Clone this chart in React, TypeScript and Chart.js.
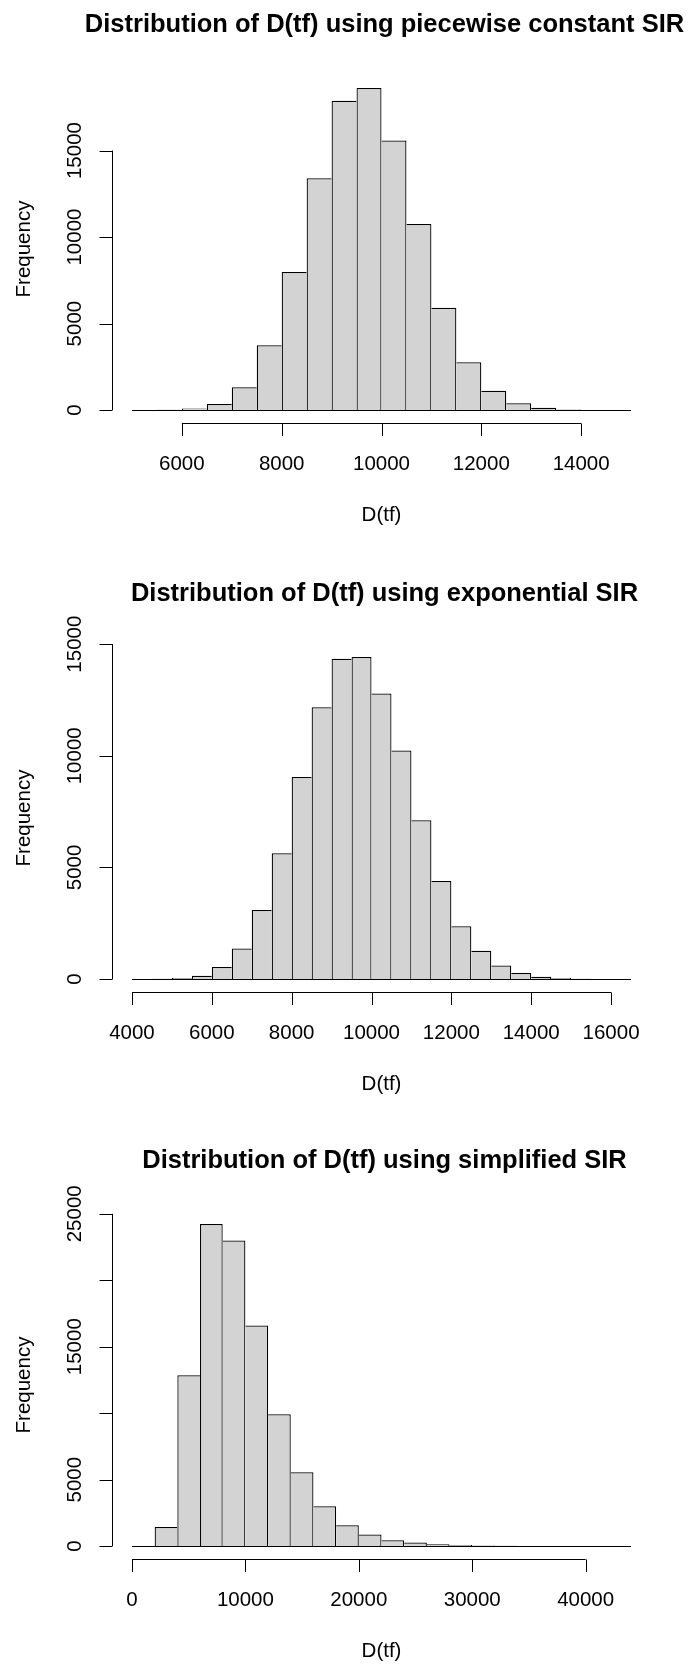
import { useEffect, useRef } from "react";
import { Chart, registerables } from "chart.js";

Chart.register(...registerables);

const FONT = '"Liberation Sans", Arial, Helvetica, sans-serif';

// --- Piecewise constant SIR ---
const title1 = "Distribution of D(tf) using piecewise constant SIR";
const binStart1 = 5000;
const binWidth1 = 500;
const counts1 = [5, 15, 90, 350, 1320, 3750, 7980, 13400, 17880, 18620, 15580, 10760, 5920, 2760, 1120, 390, 140, 40, 10, 3];
const xTicks1 = [6000, 8000, 10000, 12000, 14000];
const yTicks1 = [0, 5000, 10000, 15000];
const yTickLabels1 = ["0", "5000", "10000", "15000"];

// --- Exponential SIR ---
const title2 = "Distribution of D(tf) using exponential SIR";
const binStart2 = 4000;
const binWidth2 = 500;
const counts2 = [3, 15, 55, 150, 540, 1375, 3090, 5640, 9050, 12170, 14350, 14430, 12790, 10240, 7110, 4390, 2365, 1270, 610, 275, 108, 45, 15, 5, 2];
const xTicks2 = [4000, 6000, 8000, 10000, 12000, 14000, 16000];
const yTicks2 = [0, 5000, 10000, 15000];
const yTickLabels2 = ["0", "5000", "10000", "15000"];

// --- Simplified SIR ---
const title3 = "Distribution of D(tf) using simplified SIR";
const binStart3 = 0;
const binWidth3 = 2000;
const counts3 = [0, 1430, 12850, 24240, 22990, 16590, 9920, 5560, 3000, 1560, 870, 450, 270, 140, 80, 45, 20, 10, 5, 3, 2, 1];
const xTicks3 = [0, 10000, 20000, 30000, 40000];
const yTicks3 = [0, 5000, 10000, 15000, 20000, 25000];
const yTickLabels3 = ["0", "5000", "", "15000", "", "25000"];

const xLabel = "D(tf)";
const yLabel = "Frequency";

// layout of each plotting region inside its canvas
const W = 688;
const PLOT_LEFT = 112;
const PLOT_RIGHT = 651;
const PLOT_TOP = 75;
const PLOT_H = 348;
const EDGE = 1.25;

type Panel = {
  title: string;
  binStart: number;
  binWidth: number;
  counts: number[];
  xTicks: number[];
  yTicks: number[];
  yTickLabels: string[];
  canvasTop: number;
  canvasHeight: number;
};

const panels: Panel[] = [
  { title: title1, binStart: binStart1, binWidth: binWidth1, counts: counts1, xTicks: xTicks1, yTicks: yTicks1, yTickLabels: yTickLabels1, canvasTop: 0, canvasHeight: 569 },
  { title: title2, binStart: binStart2, binWidth: binWidth2, counts: counts2, xTicks: xTicks2, yTicks: yTicks2, yTickLabels: yTickLabels2, canvasTop: 569, canvasHeight: 568 },
  { title: title3, binStart: binStart3, binWidth: binWidth3, counts: counts3, xTicks: xTicks3, yTicks: yTicks3, yTickLabels: yTickLabels3, canvasTop: 1136, canvasHeight: 528 },
];

// R-style detached axes, labels and title
function rAxesPlugin(p: Panel) {
  const lastBreak = p.binStart + p.counts.length * p.binWidth;
  return {
    id: "rAxes",
    afterDatasetsDraw(chart: any) {
      const { ctx, scales } = chart;
      const x = scales.x;
      const y = scales.y;
      const y0 = Math.round(y.getPixelForValue(0)) + 0.5;
      ctx.save();
      ctx.strokeStyle = "#000";
      ctx.lineWidth = 1;
      ctx.beginPath();
      ctx.moveTo(x.getPixelForValue(p.binStart), y0);
      ctx.lineTo(x.getPixelForValue(lastBreak), y0);
      ctx.stroke();
      ctx.restore();
    },
    afterDraw(chart: any) {
      const { ctx, chartArea, scales } = chart;
      const x = scales.x;
      const y = scales.y;
      const left = Math.round(chartArea.left) + 0.5;
      const bottom = Math.round(chartArea.bottom) + 0.5;
      const cx = (chartArea.left + chartArea.right) / 2;
      const cy = (chartArea.top + chartArea.bottom) / 2;
      ctx.save();
      ctx.strokeStyle = "#000";
      ctx.fillStyle = "#000";
      ctx.lineWidth = 1;

      // y axis
      ctx.beginPath();
      ctx.moveTo(left, y.getPixelForValue(p.yTicks[0]));
      ctx.lineTo(left, y.getPixelForValue(p.yTicks[p.yTicks.length - 1]));
      p.yTicks.forEach((v) => {
        const py = Math.round(y.getPixelForValue(v)) + 0.5;
        ctx.moveTo(left - 13, py);
        ctx.lineTo(left, py);
      });
      ctx.stroke();
      ctx.font = `20.5px ${FONT}`;
      ctx.textAlign = "center";
      ctx.textBaseline = "alphabetic";
      p.yTicks.forEach((v, i) => {
        const label = p.yTickLabels[i];
        if (!label) return;
        ctx.save();
        ctx.translate(chartArea.left - 31, y.getPixelForValue(v));
        ctx.rotate(-Math.PI / 2);
        ctx.fillText(label, 0, 0);
        ctx.restore();
      });

      // x axis
      ctx.beginPath();
      ctx.moveTo(x.getPixelForValue(p.xTicks[0]), bottom);
      ctx.lineTo(x.getPixelForValue(p.xTicks[p.xTicks.length - 1]), bottom);
      p.xTicks.forEach((v) => {
        const px = Math.round(x.getPixelForValue(v)) + 0.5;
        ctx.moveTo(px, bottom);
        ctx.lineTo(px, bottom + 12.5);
      });
      ctx.stroke();
      p.xTicks.forEach((v) => {
        ctx.fillText(String(v), x.getPixelForValue(v), chartArea.bottom + 47);
      });

      // axis titles
      ctx.fillText(xLabel, cx, chartArea.bottom + 98);
      ctx.save();
      ctx.translate(30, cy);
      ctx.rotate(-Math.PI / 2);
      ctx.fillText(yLabel, 0, 0);
      ctx.restore();

      // main title
      ctx.font = `bold 25.5px ${FONT}`;
      ctx.fillText(p.title, cx + 3, chartArea.top - 43);
      ctx.restore();
    },
  };
}

function Histogram({ p }: { p: Panel }) {
  const ref = useRef<HTMLCanvasElement>(null);

  useEffect(() => {
    const canvas = ref.current;
    if (!canvas) return;
    const lastBreak = p.binStart + p.counts.length * p.binWidth;
    const xPad = 0.04 * (lastBreak - p.binStart);
    const maxCount = Math.max(...p.counts);
    const data = p.counts.map((c, i) => ({ x: p.binStart + p.binWidth * (i + 0.5), y: c }));

    const chart = new Chart(canvas, {
      type: "bar",
      data: {
        datasets: [
          {
            data,
            backgroundColor: "#D3D3D3",
            borderColor: "#000",
            borderSkipped: false,
            inflateAmount: 0,
            barPercentage: 1,
            categoryPercentage: 1,
            // each shared edge is drawn once, by the taller of the two bars
            borderWidth: (ctx: any) => {
              const i = ctx.dataIndex;
              if (i === undefined) return EDGE;
              const c = p.counts[i];
              const prev = i > 0 ? p.counts[i - 1] : -1;
              const next = i < p.counts.length - 1 ? p.counts[i + 1] : -1;
              return { top: EDGE, bottom: 0, left: c > prev ? EDGE : 0, right: c >= next ? EDGE : 0 };
            },
          } as any,
        ],
      },
      options: {
        animation: false,
        responsive: false,
        maintainAspectRatio: false,
        devicePixelRatio: 1,
        layout: {
          padding: {
            left: PLOT_LEFT,
            right: W - PLOT_RIGHT,
            top: PLOT_TOP,
            bottom: p.canvasHeight - PLOT_TOP - PLOT_H,
          },
        },
        plugins: {
          legend: { display: false },
          title: { display: false },
          tooltip: { enabled: false },
        },
        scales: {
          x: {
            type: "linear",
            display: false,
            offset: false,
            min: p.binStart - xPad,
            max: lastBreak + xPad,
            afterBuildTicks: (scale: any) => {
              scale.ticks = p.xTicks.map((v) => ({ value: v }));
            },
          },
          y: {
            type: "linear",
            display: false,
            min: -0.04 * maxCount,
            max: 1.04 * maxCount,
          },
        },
      },
      plugins: [rAxesPlugin(p)],
    } as any);

    return () => chart.destroy();
  }, [p]);

  return (
    <canvas
      ref={ref}
      width={W}
      height={p.canvasHeight}
      style={{ position: "absolute", left: 0, top: p.canvasTop, width: W, height: p.canvasHeight }}
    />
  );
}

export default function App() {
  return (
    <div
      style={{
        position: "absolute",
        left: 0,
        top: 0,
        width: W,
        height: 1664,
        background: "#fff",
        overflow: "hidden",
      }}
    >
      {panels.map((p, i) => (
        <Histogram key={i} p={p} />
      ))}
    </div>
  );
}
